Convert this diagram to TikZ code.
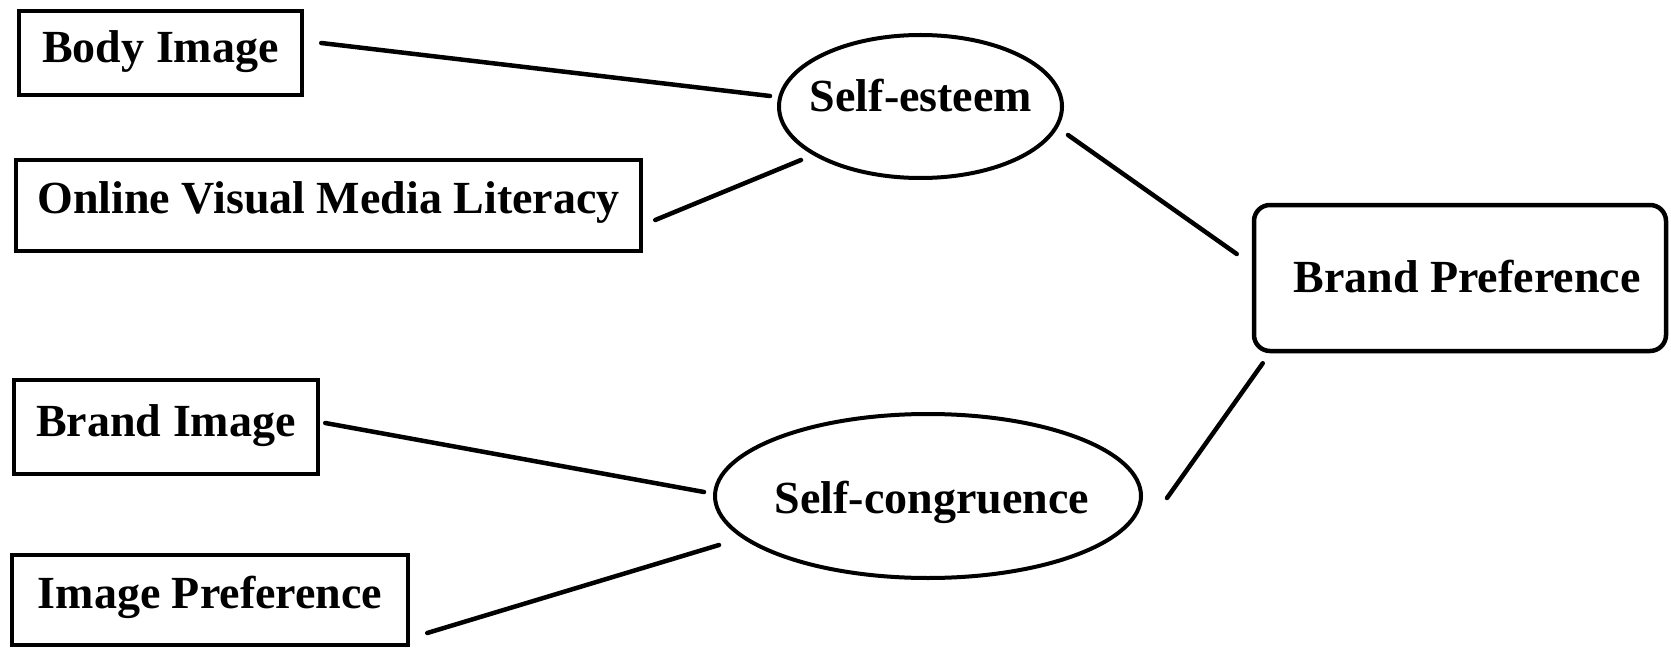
\documentclass[tikz,border=0pt]{standalone}
\usepackage{fontspec}
\setmainfont{Liberation Serif}
\usetikzlibrary{shapes.geometric}
\begin{document}
\begin{tikzpicture}[x=1pt,y=-1pt,
  every node/.style={font=\fontsize{46}{55}\selectfont\bfseries},
  box/.style={draw, line width=4.5pt, rectangle, inner sep=0pt, text height=30pt},
  oval/.style={draw, line width=4pt, ellipse, inner sep=0pt},
  lbl/.style={anchor=base, inner sep=0pt},
  link/.style={line width=4.5pt, line cap=round}]
\useasboundingbox (0,0) rectangle (1671,650);
% boxes
\node[box, minimum width=283pt, minimum height=84pt, text depth=10pt] (bi) at (160.5,53) {Body Image};
\node[box, minimum width=625pt, minimum height=91pt, text depth=15pt] (ov) at (328.5,205.5) {Online Visual Media Literacy};
\node[box, minimum width=304pt, minimum height=94pt, text depth=12pt] (bim) at (166,427) {Brand Image};
\node[box, minimum width=396pt, minimum height=90pt, text depth=14pt] (ip) at (210,600) {Image Preference};
\node[box, rounded corners=16pt, minimum width=412pt, minimum height=146pt, text depth=2pt] (bp) at (1460,278) {\hspace*{14pt}Brand Preference};
% ellipses
\node[oval, minimum width=283pt, minimum height=143pt] (se) at (920.5,106.5) {};
\node[lbl] (set) at (921,112) {Self-esteem};
\node[oval, minimum width=426pt, minimum height=164pt] (sc) at (928,496) {};
\node[lbl] (sct) at (932,513) {Self-congruence};
% connectors
\draw[link] ([xshift=17pt,yshift=10pt]bi.east) -- ([xshift=-7pt,yshift=10.5pt]se.west);
\draw[link] ([xshift=12pt,yshift=-14.5pt]ov.east) -- ([xshift=24pt,yshift=-53.5pt]se.west);
\draw[link] ([xshift=4pt,yshift=-28.5pt]se.east) -- ([xshift=-15pt,yshift=24pt]bp.west);
\draw[link] ([xshift=5pt,yshift=4pt]bim.east) -- ([xshift=-9pt,yshift=4pt]sc.west);
\draw[link] ([xshift=17pt,yshift=-33pt]ip.east) -- ([xshift=6pt,yshift=-49pt]sc.west);
\draw[link] ([xshift=24pt,yshift=-2pt]sc.east) -- ([xshift=11pt,yshift=-10pt]bp.south west);
\end{tikzpicture}
\end{document}
